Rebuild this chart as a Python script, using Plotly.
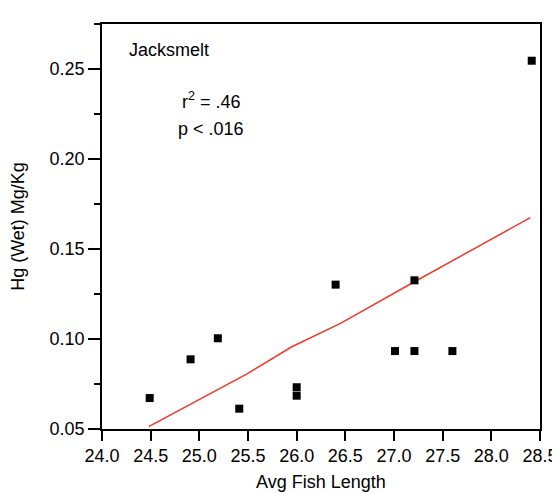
import plotly.graph_objects as go

# Data points (Avg fish length vs Hg wet)
fish_length = [24.49, 24.91, 25.19, 25.41, 26.0, 26.0, 26.40, 27.01, 27.21, 27.21, 27.60, 28.415]
hg_wet = [0.0672, 0.0887, 0.1004, 0.0613, 0.0732, 0.0685, 0.1302, 0.0933, 0.1326, 0.0933, 0.0933, 0.2546]

# Fit line (as drawn)
fit_x = [24.48, 25.01, 25.49, 25.95, 26.45, 27.21, 28.40]
fit_y = [0.0513, 0.0667, 0.0806, 0.0957, 0.1087, 0.1318, 0.1674]

x_ticks = [24.0, 24.5, 25.0, 25.5, 26.0, 26.5, 27.0, 27.5, 28.0, 28.5]
y_ticks = [0.05, 0.10, 0.15, 0.20, 0.25]

FONT = "Liberation Sans, Arial, sans-serif"

fig = go.Figure()
fig.add_trace(go.Scatter(x=fit_x, y=fit_y, mode="lines",
                         line=dict(color="#f0382a", width=1.5), showlegend=False))
fig.add_trace(go.Scatter(x=fish_length, y=hg_wet, mode="markers",
                         marker=dict(symbol="square", size=8, color="black"),
                         showlegend=False))

# page body has an 8px default margin, so the figure is sized to fit inside the window
fig.update_layout(
    width=552, height=485,
    margin=dict(l=94, r=20, t=16, b=64),
    paper_bgcolor="white", plot_bgcolor="white",
    font=dict(family=FONT, size=18, color="black"),
    xaxis=dict(range=[24.0, 28.5], tickvals=x_ticks, automargin=False,
               ticktext=[f"{v:.1f}" for v in x_ticks], ticklabeloverflow="allow",
               showgrid=False, zeroline=False, showline=True, mirror=True,
               linecolor="black", linewidth=1.5,
               ticks="outside", ticklen=10, tickwidth=1.5, tickcolor="black",
               title=dict(text="Avg Fish Length", font=dict(size=18), standoff=10)),
    yaxis=dict(range=[0.05, 0.275], tickvals=y_ticks, automargin=False,
               ticktext=[f"{v:.2f}" for v in y_ticks], ticklabeloverflow="allow",
               showgrid=False, zeroline=False, showline=True, mirror=True,
               linecolor="black", linewidth=1.5,
               ticks="outside", ticklen=12, tickwidth=1.5, tickcolor="black",
               minor=dict(dtick=0.025, tick0=0.025, ticks="outside", ticklen=6,
                          tickwidth=1.5, tickcolor="black", showgrid=False),
               title=dict(text="Hg (Wet) Mg/Kg", font=dict(size=18), standoff=32)),
    annotations=[
        dict(text="Jacksmelt", xref="paper", yref="paper", x=0.057, y=0.937,
             xanchor="left", yanchor="middle", showarrow=False, font=dict(size=18)),
        dict(text="r<sup>2</sup> = .46", xref="paper", yref="paper", x=0.249, y=0.81,
             xanchor="center", yanchor="middle", showarrow=False, font=dict(size=18)),
        dict(text="p < .016", xref="paper", yref="paper", x=0.249, y=0.74,
             xanchor="center", yanchor="middle", showarrow=False, font=dict(size=18)),
    ],
)

fig.write_html("out.html")
